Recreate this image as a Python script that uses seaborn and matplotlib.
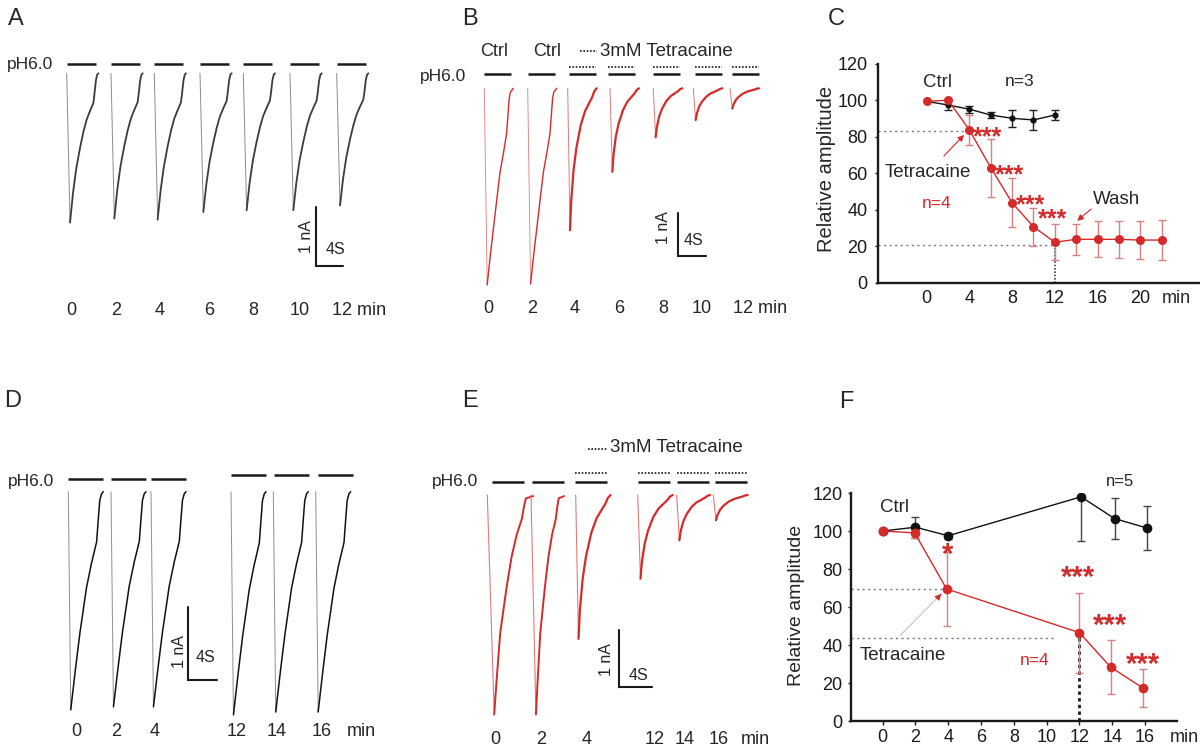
import numpy as np
import matplotlib
matplotlib.use("Agg")
import matplotlib.pyplot as plt
import matplotlib.transforms as mtransforms
import seaborn as sns

sns.set_theme(style="white")
plt.rcParams["font.family"] = ["Liberation Sans", "DejaVu Sans"]

W, H = 1200, 747
RED = "#d42a2a"
RED_LIGHT = "#d98080"

# --- 1. Data ---
# peak amplitude (nA) of each pH6.0 evoked current
a_labels = ["0", "2", "4", "6", "8", "10", "12 min"]
a_peaks = [2.53, 2.46, 2.48, 2.35, 2.32, 2.32, 2.24]

b_labels = ["0", "2", "4", "6", "8", "10", "12 min"]
b_peaks = [4.57, 4.55, 3.30, 1.94, 1.14, 0.74, 0.47]
b_tetracaine = [False, False, True, True, True, True, True]

d_labels = ["0", "2", "4", "12", "14", "16", "min"]
d_peaks = [3.00, 2.96, 2.96, 3.07, 3.03, 3.03]

e_labels = ["0", "2", "4", "12", "14", "16", "min"]
e_peaks = [3.83, 3.83, 2.51, 1.46, 0.79, 0.44]
e_tetracaine = [False, False, True, True, True, True]

# waveforms: time as fraction of sweep, current as fraction of peak
a_shape_t = [0, 0.105, 0.2, 0.3, 0.42, 0.53, 0.63, 0.74, 0.84, 0.87, 0.92, 0.96, 1.0]
a_shape_i = [0, -1, -0.8, -0.64, -0.5, -0.39, -0.31, -0.25, -0.2, -0.15, -0.05, -0.01, 0]
b_shape_t = [0, 0.1, 0.2, 0.31, 0.42, 0.54, 0.66, 0.77, 0.81, 0.86, 0.9, 1.0]
b_shape_i = [0, -1, -0.86, -0.72, -0.58, -0.43, -0.33, -0.23, -0.15, -0.05, -0.02, 0]
d_shape_t = [0, 0.07, 0.2, 0.33, 0.43, 0.52, 0.66, 0.81, 0.86, 0.9, 0.95, 1.0]
d_shape_i = [0, -1, -0.82, -0.65, -0.54, -0.44, -0.33, -0.23, -0.12, -0.04, -0.01, 0]
e_shape_t = [0, 0.15, 0.2, 0.28, 0.42, 0.53, 0.64, 0.75, 0.8, 0.84, 1.0]
e_shape_i = [0, -1, -0.85, -0.63, -0.42, -0.28, -0.18, -0.11, -0.05, -0.015, -0.005]
tet_shape_t = [0, 0.08, 0.12, 0.2, 0.3, 0.45, 0.6, 0.75, 0.85, 0.92, 1.0]
tet_shape_i = [0, -1, -0.8, -0.58, -0.42, -0.26, -0.16, -0.1, -0.06, -0.02, 0]

# relative amplitude (%): mean and error
c_ctrl_x = [0, 2, 4, 6, 8, 10, 12]
c_ctrl_y = [99.5, 97.5, 95.2, 92.0, 90.2, 89.3, 92.0]
c_ctrl_err = [0, 2.5, 2.0, 1.5, 4.7, 5.5, 2.5]
c_tet_x = [0, 2, 4, 6, 8, 10, 12, 14, 16, 18, 20, 22]
c_tet_y = [99.5, 100.2, 83.8, 63.1, 43.9, 30.7, 22.2, 23.8, 23.8, 23.8, 23.4, 23.4]
c_tet_err = [0, 0, 8.0, 16.0, 13.5, 10.5, 9.8, 8.5, 9.9, 10.2, 10.5, 11.0]
c_xticks = [0, 4, 8, 12, 16, 20]

f_ctrl_x = [0, 2, 4, 12.1, 14.15, 16.15]
f_ctrl_y = [100, 102, 97.5, 118, 106.5, 101.5]
f_ctrl_err = [0, 5.5, 1.5, 23, 10.7, 11.7]
f_tet_x = [0, 1.95, 3.9, 12, 13.9, 15.9]
f_tet_y = [100, 99, 69.5, 46.5, 28.4, 17.2]
f_tet_err = [0, 2.5, 19.5, 21, 14.2, 10]
f_xticks = [0, 2, 4, 6, 8, 10, 12, 14, 16]
yticks = [0, 20, 40, 60, 80, 100, 120]

fig = plt.figure(figsize=(12, 7.47), dpi=100)


def ptext(x, y, s, **kw):
    # place text by pixel position in the figure
    kw.setdefault("fontsize", 13)
    kw.setdefault("ha", "center")
    kw.setdefault("va", "center")
    fig.text(x / W, 1 - y / H, s, **kw)


def trace_panel(box, x0, y0, pps, ppn):
    l, t, r, b = box
    ax = fig.add_axes([l / W, 1 - b / H, (r - l) / W, (b - t) / H])
    ax.set_xlim((l - x0) / pps, (r - x0) / pps)
    ax.set_ylim((y0 - b) / ppn, (y0 - t) / ppn)
    ax.axis("off")
    ax.patch.set_alpha(0)
    return ax, (lambda px: (px - x0) / pps), (lambda py: (y0 - py) / ppn)


def draw_trace(ax, t0, dur, peak, st, si, fall_color, rise_color, fall_lw, rise_lw):
    t = t0 + np.asarray(st) * dur
    cur = np.asarray(si) * peak
    k = int(np.argmin(si))
    sns.lineplot(x=t[:k + 1], y=cur[:k + 1], ax=ax, color=fall_color, lw=fall_lw,
                 estimator=None, sort=False)
    sns.lineplot(x=t[k:], y=cur[k:], ax=ax, color=rise_color, lw=rise_lw,
                 estimator=None, sort=False)


def bar(ax, t0, length, level, dotted=False):
    if dotted:
        ax.plot([t0, t0 + length], [level, level], color="k", lw=1.2, ls=(0, (1, 1)))
    else:
        ax.plot([t0, t0 + length], [level, level], color="k", lw=1.8, solid_capstyle="butt")


def scale_bar(ax, X, Y):
    ax.plot([X, X, X + 4], [Y + 1, Y, Y], color="k", lw=1.5, solid_joinstyle="miter")


# --- Panel A ---
ax, s_of, na_of = trace_panel((0, 35, 400, 330), 66.7, 73.3, 6.67, 59)
a_starts = [66.7, 111, 154.3, 200, 243.3, 290, 336.7]
for st, pk in zip(a_starts, a_peaks):
    draw_trace(ax, s_of(st), 4.75, pk, a_shape_t, a_shape_i, "#8c8c8c", "#3c3c3c", 0.7, 1.3)
    bar(ax, s_of(st), 4.35, 0.158)
scale_bar(ax, s_of(316), na_of(266))
ptext(6.7, 64, "pH6.0", fontsize=12.5, ha="left")
ptext(306.7, 236.7, "1 nA", fontsize=11.5, rotation=90)
ptext(335, 250, "4S", fontsize=11.5)
for x, lab in zip([71.7, 116, 160, 209, 253, 300, 359], a_labels):
    ptext(x, 310, lab)

# --- Panel B ---
ax, s_of, na_of = trace_panel((400, 30, 790, 330), 484.3, 88.3, 7.0, 43)
b_starts = [484.3, 527.7, 567.7, 610, 653.3, 693.3, 730]
b_bars = [484, 528, 569, 608, 653, 695, 732]
for st, bs, pk, tet in zip(b_starts, b_bars, b_peaks, b_tetracaine):
    if tet:
        draw_trace(ax, s_of(st), 4.14, pk, tet_shape_t, tet_shape_i, "#e07a7a", RED, 0.7, 1.6)
        bar(ax, s_of(bs), 3.8, 0.50, dotted=True)
    else:
        draw_trace(ax, s_of(st), 4.14, pk, b_shape_t, b_shape_i, "#e07a7a", RED, 0.6, 1.0)
    bar(ax, s_of(bs), 3.8, 0.326)
scale_bar(ax, s_of(678.3), na_of(256))
ax.plot([s_of(580), s_of(597)], [na_of(51), na_of(51)], color="k", lw=1.2, ls=(0, (1, 1)))
ptext(494.3, 51.7, "Ctrl")
ptext(546.7, 51.7, "Ctrl")
ptext(600, 51.7, "3mM Tetracaine", fontsize=13.5, ha="left")
ptext(420, 76.7, "pH6.0", fontsize=12.5, ha="left")
ptext(663.3, 228, "1 nA", fontsize=11.5, rotation=90)
ptext(693.3, 240.7, "4S", fontsize=11.5)
for x, lab in zip([488.3, 532.3, 575, 619, 663.3, 701.7], b_labels[:-1]):
    ptext(x, 308.3, lab)
ptext(733.3, 308.3, b_labels[-1], ha="left")

# --- Panel D ---
ax, s_of, na_of = trace_panel((0, 440, 400, 720), 68.3, 491.7, 7.08, 72.7)
d_starts = [68.3, 111, 151, 231, 273.3, 315.7]
d_bars = [68.3, 111, 151, 231, 274.3, 318.3]
d_bar_levels = [0.175, 0.175, 0.175, 0.23, 0.23, 0.23]
for st, bs, lv, pk in zip(d_starts, d_bars, d_bar_levels, d_peaks):
    draw_trace(ax, s_of(st), 4.94, pk, d_shape_t, d_shape_i, "#909090", "#111111", 0.7, 1.1)
    bar(ax, s_of(bs), 4.9, lv)
scale_bar(ax, s_of(188.3), na_of(680))
ptext(8.3, 481.7, "pH6.0", fontsize=12.5, ha="left")
ptext(179, 651.7, "1 nA", fontsize=11.5, rotation=90)
ptext(205, 657.3, "4S", fontsize=11.5)
for x, lab in zip([76, 115.7, 155, 236.7, 276.7, 321.7, 361.7], d_labels):
    ptext(x, 731, lab)

# --- Panel E ---
ax, s_of, na_of = trace_panel((400, 440, 790, 720), 487.3, 495, 8.17, 57.3)
e_starts = [487.3, 531, 575.7, 637.7, 676.7, 713.3]
e_durs = [5.63, 4.04, 4.28, 4.28, 4.08, 4.21]
e_bars = [491.7, 532.3, 575, 637.7, 676.7, 715]
for st, du, bs, pk, tet in zip(e_starts, e_durs, e_bars, e_peaks, e_tetracaine):
    if tet:
        draw_trace(ax, s_of(st), du, pk, tet_shape_t, tet_shape_i, "#e07a7a", RED, 0.8, 1.6)
        bar(ax, s_of(bs), 3.9, 0.39, dotted=True)
    else:
        draw_trace(ax, s_of(st), du, pk, e_shape_t, e_shape_i, "#e07a7a", RED, 0.8, 1.4)
    bar(ax, s_of(bs), 3.9, 0.232)
scale_bar(ax, s_of(619), na_of(687.3))
ax.plot([s_of(588), s_of(607)], [na_of(449), na_of(449)], color="k", lw=1.2, ls=(0, (1, 1)))
ptext(610, 448, "3mM Tetracaine", fontsize=13.5, ha="left")
ptext(431.7, 481.7, "pH6.0", fontsize=12.5, ha="left")
ptext(606.7, 660, "1 nA", fontsize=11.5, rotation=90)
ptext(638.3, 676, "4S", fontsize=11.5)
for x, lab in zip([495, 541, 586.7, 655, 685, 718.3, 755], e_labels):
    ptext(x, 740, lab)


# --- Time-course panels ---
def time_course(ax, x, y, err, color, ecolor, ms):
    ax.errorbar(x, y, yerr=err, fmt="none", ecolor=ecolor, elinewidth=1,
                capsize=3, capthick=1, zorder=2)
    sns.lineplot(x=x, y=y, ax=ax, color=color, lw=1, marker="o", markersize=ms,
                 markeredgewidth=0, zorder=3, estimator=None, sort=False)


def stars(ax, x, y, s, fs=21, **kw):
    tr = mtransforms.offset_copy(ax.transData, fig=fig, y=-0.56 * fs, units="points")
    ax.text(x, y, s, transform=tr, color=RED, fontsize=fs, fontweight="bold",
            va="baseline", **kw)


def style_axes(ax, xticks, xtick_len, ypad, xpad):
    for side in ["top", "right"]:
        ax.spines[side].set_visible(False)
    for side in ["left", "bottom"]:
        ax.spines[side].set_linewidth(1.7)
        ax.spines[side].set_color("k")
    ax.set_yticks(yticks)
    ax.set_xticks(xticks)
    ax.tick_params(axis="y", direction="out", length=2.5, width=1, pad=ypad,
                   labelsize=13, colors="k", left=True)
    ax.tick_params(axis="x", direction="out", length=xtick_len, width=1, pad=xpad,
                   labelsize=13, colors="k", bottom=True)
    ax.set_ylim(0, 120)
    ax.patch.set_alpha(0)


# Panel C
axc = fig.add_axes([878 / W, 1 - 282.7 / H, 322 / W, 218.7 / H])
axc.set_xlim(-4.56, 25.6)
time_course(axc, c_ctrl_x, c_ctrl_y, c_ctrl_err, "#111111", "#222222", 4.5)
time_course(axc, c_tet_x, c_tet_y, c_tet_err, RED, RED_LIGHT, 6.5)
style_axes(axc, c_xticks, 0, 5, 5)
axc.plot([-4.56, 4], [83.5, 83.5], color="#777777", lw=1, ls=(0, (1.5, 2.5)), zorder=1)
axc.plot([-4.56, 12], [20.7, 20.7], color="#777777", lw=1, ls=(0, (1.5, 2.5)), zorder=1)
axc.plot([12, 12], [0, 22.2], color="#444444", lw=1.2, ls=(0, (1, 1)), zorder=1)
axc.text(0.97, 109.6, "Ctrl", fontsize=13.5, ha="center", va="center")
axc.text(8.74, 110.2, "n=3", fontsize=12.5, ha="center", va="center")
axc.text(0.12, 60.2, "Tetracaine", fontsize=13.5, ha="center", va="center")
axc.text(0.97, 43.7, "n=4", fontsize=12.5, ha="center", va="center", color=RED)
axc.text(17.8, 45.4, "Wash", fontsize=13.5, ha="center", va="center")
axc.annotate("", xy=(3.68, 82.2), xytext=(1.43, 68.4),
             arrowprops=dict(arrowstyle="-|>", color=RED, lw=0.8, mutation_scale=9))
axc.annotate("", xy=(13.9, 33.0), xytext=(15.6, 41.4),
             arrowprops=dict(arrowstyle="-|>", color=RED, lw=0.8, mutation_scale=9))
for sx, sy in zip([4.3, 6.35, 8.35, 10.4], [83.4, 62.8, 46.3, 38.4]):
    stars(axc, sx, sy, "***", fs=18, ha="left")
axc.text(-0.16, 0.52, "Relative amplitude", transform=axc.transAxes, rotation=90,
         fontsize=14.5, ha="center", va="center")
ptext(1162, 298.3, "min", ha="left")

# Panel F
axf = fig.add_axes([851 / W, 1 - 721 / H, 326 / W, 228 / H])
axf.set_xlim(-1.93, 17.95)
time_course(axf, f_ctrl_x, f_ctrl_y, f_ctrl_err, "#111111", "#444444", 7)
time_course(axf, f_tet_x, f_tet_y, f_tet_err, RED, RED_LIGHT, 7)
style_axes(axf, f_xticks, 3, 3.5, 3)
axf.plot([-1.93, 3.9], [69.3, 69.3], color="#777777", lw=1, ls=(0, (1.5, 2.5)), zorder=1)
axf.plot([-1.93, 10.6], [43.7, 43.7], color="#777777", lw=1, ls=(0, (1.5, 2.5)), zorder=1)
axf.plot([12, 12], [0, 46.5], color="k", lw=2, ls=(0, (1.2, 1.2)), zorder=1)
axf.text(0.75, 112.6, "Ctrl", fontsize=13.5, ha="center", va="center")
axf.text(14.48, 126, "n=5", fontsize=12, ha="center", va="center")
axf.text(9.29, 32.1, "n=4", fontsize=12.5, ha="center", va="center", color=RED)
axf.text(1.26, 34.7, "Tetracaine", fontsize=13.5, ha="center", va="center")
axf.annotate("", xy=(3.7, 68), xytext=(0.95, 44),
             arrowprops=dict(arrowstyle="-", color="#c8c8c8", lw=0.9))
axf.annotate("", xy=(3.7, 68), xytext=(3.2, 63.5),
             arrowprops=dict(arrowstyle="-|>", color=RED, lw=0.8, mutation_scale=9))
stars(axf, 3.94, 91.7, "*", ha="center")
for sx, sy in zip([11.93, 13.86, 15.89], [79.5, 54.6, 33.8]):
    stars(axf, sx, sy, "***", ha="center")
axf.text(-0.1666, 0.505, "Relative amplitude", transform=axf.transAxes, rotation=90,
         fontsize=14, ha="center", va="center")
ptext(1170, 738, "min", ha="left")

# --- Panel letters ---
for lab, x, y in [("A", 16, 19), ("B", 470, 19), ("C", 836, 19),
                  ("D", 13, 401), ("E", 470, 401), ("F", 846, 402)]:
    ptext(x, y, lab, fontsize=17)

fig.savefig("out.png", dpi=100)
